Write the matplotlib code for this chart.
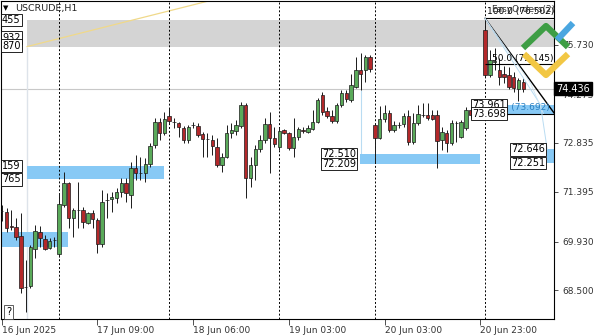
import matplotlib.pyplot as plt
import matplotlib.transforms as mtransforms
from matplotlib.patches import Rectangle

# USCRUDE H1 candles (one entry per hourly bar)
opens = [70.84, 70.81, 70.40, 70.37, 70.10, 68.60, 68.63, 69.72, 70.22, 70.01,
         69.75, 69.98, 69.57, 71.01, 71.66, 70.63, 70.87, 70.87, 70.48, 70.78,
         70.57, 69.87, 71.16, 71.19, 71.22, 71.40, 71.66, 71.31, 72.10, 71.95,
         71.95, 72.22, 72.78, 73.45, 73.13, 73.63, 73.45, 73.42, 73.28, 72.92,
         73.37, 73.34, 73.10, 72.95, 72.92, 72.72, 72.19, 72.42, 73.13, 73.19,
         73.34, 73.95, 71.81, 72.19, 72.66, 72.92, 73.39, 72.98, 72.72, 73.22,
         73.13, 72.69, 73.01, 73.22, 73.16, 73.25, 73.45, 74.25, 73.78, 73.63,
         73.48, 73.95, 74.31, 74.10, 74.48, 74.98, 74.98, 75.36, 73.37, 72.98,
         73.54, 73.72, 73.22, 73.37, 73.39, 73.63, 72.87, 73.42, 73.66, 73.66,
         73.66, 73.66, 72.92, 73.13, 72.84, 73.42, 73.01, 73.28, 73.81, 73.66,
         73.75, 76.16, 74.84, 75.22, 74.98, 74.86, 74.84, 74.78, 74.42, 74.63]
highs = [71.01, 70.92, 70.87, 70.63, 70.78, 69.40, 69.84, 70.43, 70.40, 70.13,
         70.04, 70.07, 71.37, 71.98, 71.69, 70.92, 71.69, 70.95, 70.81, 70.87,
         70.63, 71.45, 71.37, 71.40, 71.51, 71.81, 71.81, 72.28, 72.48, 72.42,
         72.40, 72.84, 73.57, 73.57, 73.75, 73.87, 73.57, 73.45, 73.34, 73.37,
         73.45, 73.42, 73.16, 73.13, 73.07, 72.98, 72.54, 73.37, 73.42, 73.51,
         74.04, 74.01, 72.42, 72.78, 73.07, 73.57, 73.75, 73.31, 73.28, 73.25,
         73.16, 73.57, 73.31, 73.31, 73.37, 73.81, 74.16, 74.34, 73.89, 73.81,
         74.01, 74.39, 74.39, 74.86, 75.36, 75.48, 75.42, 75.42, 73.40, 73.92,
         73.95, 73.81, 73.48, 73.45, 73.72, 73.81, 73.72, 73.95, 74.01, 74.01,
         73.81, 73.81, 73.31, 73.22, 73.51, 73.48, 73.51, 73.89, 73.87, 73.87,
         73.84, 76.50, 75.57, 75.63, 75.34, 75.10, 75.07, 74.92, 74.75, 74.75]
lows = [70.54, 70.22, 70.28, 69.98, 68.43, 67.87, 68.57, 69.46, 69.78, 69.69,
        69.72, 69.78, 69.48, 70.95, 70.34, 70.07, 70.34, 70.34, 70.45, 70.34,
        69.60, 69.78, 70.63, 70.81, 71.07, 71.25, 71.10, 70.92, 71.75, 71.75,
        71.69, 72.13, 72.69, 72.92, 73.07, 73.42, 73.28, 73.01, 72.84, 72.84,
        73.28, 73.01, 72.42, 72.42, 72.48, 72.13, 71.98, 72.40, 72.98, 73.07,
        73.28, 71.22, 71.54, 71.75, 72.57, 72.84, 71.95, 72.72, 72.63, 73.10,
        72.63, 72.42, 72.92, 73.13, 73.13, 73.22, 73.42, 73.66, 73.57, 73.42,
        73.42, 73.89, 74.04, 74.04, 74.45, 74.39, 74.63, 74.92, 72.25, 72.96,
        73.45, 73.16, 73.16, 73.28, 73.31, 72.78, 72.81, 73.37, 73.60, 73.51,
        73.51, 72.10, 72.63, 72.57, 72.78, 72.87, 72.98, 73.22, 73.57, 73.60,
        73.63, 74.78, 74.78, 74.98, 74.54, 74.60, 74.42, 74.34, 74.07, 74.34]
closes = [70.84, 70.34, 70.37, 70.07, 68.57, 68.61, 69.78, 70.25, 70.04, 69.72,
          69.96, 69.98, 71.04, 71.66, 70.63, 70.87, 70.87, 70.51, 70.78, 70.60,
          69.87, 71.10, 71.16, 71.25, 71.40, 71.66, 71.37, 72.10, 71.95, 71.95,
          72.22, 72.75, 73.45, 73.13, 73.54, 73.48, 73.45, 73.31, 72.92, 73.31,
          73.37, 73.07, 72.95, 72.95, 72.75, 72.19, 72.42, 73.13, 73.22, 73.37,
          73.95, 71.81, 72.19, 72.66, 72.92, 73.39, 72.98, 72.81, 73.19, 73.13,
          72.69, 73.01, 73.25, 73.19, 73.28, 73.45, 74.10, 73.75, 73.63, 73.48,
          73.95, 74.31, 74.13, 74.54, 74.98, 74.86, 75.36, 75.01, 72.98, 73.54,
          73.72, 73.22, 73.37, 73.37, 73.63, 72.87, 73.42, 73.69, 73.66, 73.57,
          73.54, 72.90, 73.16, 72.84, 73.42, 73.42, 73.45, 73.81, 73.66, 73.75,
          73.69, 74.84, 75.28, 75.25, 74.78, 74.78, 74.48, 74.45, 74.69, 74.436]

time_ticks = [0, 20, 40, 60, 80, 100]
time_labels = ["16 Jun 2025", "17 Jun 09:00", "18 Jun 06:00",
               "19 Jun 03:00", "20 Jun 03:00", "20 Jun 23:00"]
day_breaks = [12, 35, 58, 78, 101]
price_ticks = [75.730, 74.273, 72.835, 71.395, 69.930, 68.500]
last_price = 74.436

# zones: (first bar, last bar, top price, bottom price)
gray_zone = (5.3, 116, 76.455, 75.670)
blue_zones = [(-1, 13.9, 70.22, 69.78),
              (5.3, 33.9, 72.159, 71.765),
              (74.9, 100.0, 72.510, 72.209),
              (113.9, 116, 72.646, 72.251),
              (105.8, 116, 73.961, 73.698)]

fib_start = 101
fib_100 = 76.50
fib_50 = 75.145
fib_0 = 73.692

bull = "#5aaa5a"
bear = "#b3282a"
edge = "#1a1a1a"
blue = "#87c9f5"

fig = plt.figure(figsize=(5.98, 3.36), dpi=100)
ax = fig.add_axes([1 / 598, 17 / 336, 553 / 598, 318 / 336])
ax.set_xlim(-0.15, 115.42)
ax.set_ylim(67.66, 77.01)

# zones
x0, x1, top, bot = gray_zone
ax.add_patch(Rectangle((x0, bot), x1 - x0, top - bot, fc="#d4d4d4", ec="none", zorder=1))
for x0, x1, top, bot in blue_zones:
    ax.add_patch(Rectangle((x0, bot), x1 - x0, top - bot, fc=blue, ec="none", zorder=1))

# helper lines
ax.axhline(last_price, color="#c8c8c8", lw=0.8, zorder=0.5)
ax.vlines(5.3, ax.get_ylim()[0], gray_zone[3], color="#dde3ea", lw=1.0, zorder=0.6)
ax.vlines(75, 72.510, 74.39, color="#b9dcf2", lw=0.8, zorder=0.6)
ax.plot([5.3, 50], [75.670, 77.25], color="#f0d98a", lw=0.9, zorder=2)

for d in day_breaks:
    ax.axvline(d, color="black", lw=0.7, ls=(0, (2, 2)), zorder=2)

# candles
w = 0.72
for i, (o, h, l, c) in enumerate(zip(opens, highs, lows, closes)):
    ax.vlines(i, l, h, color=edge, lw=0.7, zorder=3)
    if c > o:
        fc = bull
    elif c < o:
        fc = bear
    else:
        fc = edge
    ax.add_patch(Rectangle((i - w / 2, min(o, c)), w, abs(c - o),
                           fc=fc, ec=edge, lw=0.5, zorder=4))

# fibonacci tool
ax.hlines([fib_100, fib_50], fib_start, 116, color="black", lw=0.8, zorder=5)
ax.hlines(fib_0, 98.3, 116, color="black", lw=0.8, zorder=5)
ax.plot([fib_start, 115.42], [fib_100, 73.72], color="black", lw=1.0, zorder=5)
ax.plot([fib_start, 112.6, 114.0], [fib_100, 73.96, 72.646], color="#b9dcf2", lw=0.7, zorder=5)
ax.plot([fib_start, 110.5, 113.2], [fib_100, 74.6, 73.7], color="#cfe6f5", lw=0.6, zorder=5)
ax.text(fib_start + 0.5, fib_100 + 0.07, "100.0 (76.502)", fontsize=6.5, va="bottom", zorder=6)
ax.text(fib_start + 1.3, fib_100 + 0.14, "EasyOrders(2)", fontsize=6.5, va="bottom",
        color="#333333", zorder=6)
ax.text(fib_start + 1.5, fib_50 + 0.05, "50.0 (75.145)", fontsize=6.5, va="bottom", zorder=6)
ax.text(fib_start + 1.8, fib_0 + 0.05, "0.0 (73.692)", fontsize=6.5, va="bottom",
        color="#2a7fc0", zorder=6)

# level label boxes
box = dict(boxstyle="square,pad=0.12", fc="white", ec="black", lw=0.6)
lab = dict(fontsize=7, va="center", bbox=box, zorder=8)
ax.text(74.1, 72.510, "72.510", ha="right", **lab)
ax.text(74.1, 72.209, "72.209", ha="right", **lab)
ax.text(98.3, 73.961, "73.961", ha="left", **lab)
ax.text(98.3, 73.698, "73.698", ha="left", **lab)
ax.text(113.5, 72.646, "72.646", ha="right", **lab)
ax.text(113.5, 72.251, "72.251", ha="right", **lab)
ax.text(0.05, 72.159, "159", ha="left", **lab)
ax.text(0.05, 71.765, "765", ha="left", **lab)
ax.text(0.05, 76.455, "455", ha="left", **lab)
ax.text(0.05, 75.932, "932", ha="left", **lab)
ax.text(0.05, 75.700, "870", ha="left", **lab)

# axes styling
for s in ax.spines.values():
    s.set_color("black")
    s.set_linewidth(0.8)
ax.yaxis.tick_right()
ax.set_yticks(price_ticks)
ax.set_yticklabels([f"{p:.3f}" for p in price_ticks])
ax.tick_params(axis="y", length=3, width=0.6, labelsize=6.5, pad=3, colors="#333333")
ax.set_xticks(time_ticks)
ax.set_xticklabels(time_labels)
ax.tick_params(axis="x", length=4, width=0.6, labelsize=6.5, pad=1, colors="#333333")
for t in ax.get_xticklabels():
    t.set_horizontalalignment("left")

trans = mtransforms.blended_transform_factory(ax.transAxes, ax.transData)
ax.text(1.004, last_price, f"{last_price:.3f}", transform=trans, color="white",
        fontsize=7, va="center", ha="left", clip_on=False, zorder=9,
        bbox=dict(boxstyle="square,pad=0.2", fc="black", ec="black"))

# overlay in pixel coords: title, help box, broker logo
ov = fig.add_axes([0, 0, 1, 1], zorder=10)
ov.set_xlim(0, 598)
ov.set_ylim(336, 0)
ov.axis("off")
ov.patch.set_alpha(0)
ov.text(3, 8, "\u25bc", fontsize=5, va="center")
ov.text(15, 8, "USCRUDE,H1", fontsize=6.8, va="center", color="#222222")
ov.text(6, 312, "?", fontsize=7, va="center",
        bbox=dict(boxstyle="square,pad=0.2", fc="white", ec="#444444", lw=0.6))
ov.plot([523, 546, 568], [48, 26, 47], color="#3e9e45", lw=4.5, solid_capstyle="butt")
ov.plot([557, 573], [40, 23], color="#4aa6e0", lw=4.5, solid_capstyle="butt")
ov.plot([524, 546, 568], [54, 75, 54], color="#f2c744", lw=4.5, solid_capstyle="butt")

fig.savefig("out.png", dpi=100)
